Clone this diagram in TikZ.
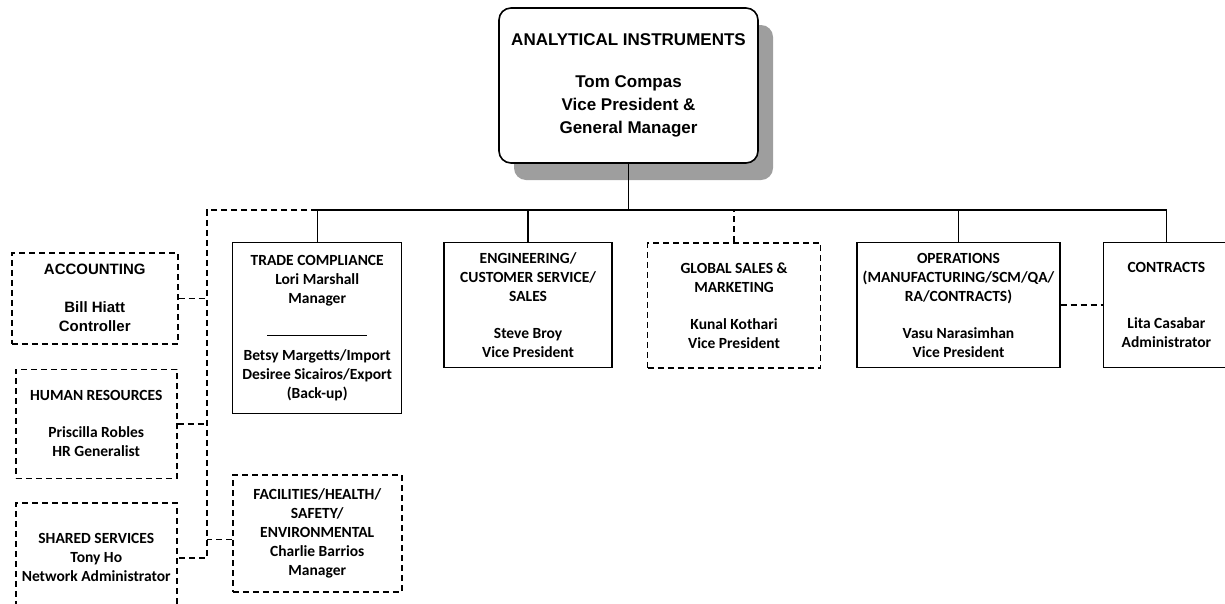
\documentclass[tikz,border=0pt]{standalone}
\usepackage{fontspec}
\setmainfont{Carlito}
\newfontfamily\arialfont{Liberation Sans}
\usetikzlibrary{positioning,shadows}

\begin{document}
\begin{tikzpicture}[x=1pt, y=1pt,
  head/.style={draw, line width=1.6pt, rounded corners=12pt, fill=white, minimum width=259pt, minimum height=155pt, inner sep=0pt, align=center, font=\arialfont\bfseries\fontsize{17}{23}\selectfont, drop shadow={shadow xshift=15pt, shadow yshift=-17pt, fill=black!38, opacity=1}},
  unit/.style={draw, line width=1.4pt, minimum height=125pt, inner sep=0pt, align=center, font=\bfseries\fontsize{15.5}{19}\selectfont},
  staffbox/.style={unit, line width=1.5pt, dash pattern=on 6pt off 4pt},
  link/.style={line width=1.4pt},
  stafflink/.style={line width=1.5pt, dash pattern=on 6pt off 4pt}
]
\useasboundingbox (0,0) rectangle (1225,-603);
\clip (0,0) rectangle (1225,-603);
\node[head] (top) at (628.5,-85.5) {ANALYTICAL INSTRUMENTS\\[19pt]Tom Compas\\Vice President \&\\General Manager};
\node[unit, minimum width=169pt, minimum height=171pt, anchor=north west] (trade) at (232,-242) {TRADE COMPLIANCE\\Lori Marshall\\Manager\\[13pt]\rule{100pt}{0.8pt}\\[6pt]Betsy Margetts/Import\\Desiree Sicairos/Export\\(Back-up)};
\node[unit, minimum width=168pt, right=41pt of trade.north east, anchor=north west] (eng) {ENGINEERING/\\CUSTOMER SERVICE/\\SALES\\[18pt]Steve Broy\\Vice President};
\node[staffbox, minimum width=173pt, right=34pt of eng.north east, anchor=north west] (sales) {GLOBAL SALES \&\\MARKETING\\[18pt]Kunal Kothari\\Vice President};
\node[unit, minimum width=203pt, right=35pt of sales.north east, anchor=north west] (ops) {OPERATIONS\\(MANUFACTURING/SCM/QA/\\RA/CONTRACTS)\\[18pt]Vasu Narasimhan\\Vice President};
\node[unit, minimum width=126pt, right=42pt of ops.north east, anchor=north west] (contracts) {CONTRACTS\\[37pt]Lita Casabar\\Administrator};
\node[staffbox, minimum width=166pt, minimum height=91pt, anchor=north west, font=\arialfont\bfseries\fontsize{15}{19}\selectfont] (acct) at (11,-252) {ACCOUNTING\\[19pt]Bill Hiatt\\Controller};
\node[staffbox, minimum width=161pt, minimum height=109pt, below=24pt of acct.south, anchor=north, xshift=1.5pt] (hr) {HUMAN RESOURCES\\[18pt]Priscilla Robles\\HR Generalist};
\node[staffbox, minimum width=161pt, minimum height=110pt, below=23pt of hr.south, anchor=north] (shared) {SHARED SERVICES\\Tony Ho\\Network Administrator};
\node[staffbox, minimum width=169pt, minimum height=117pt, below=60pt of trade.south west, anchor=north west] (fac) {FACILITIES/HEALTH/\\SAFETY/\\ENVIRONMENTAL\\Charlie Barrios\\Manager};
\coordinate (bus) at (628.5,-210);
\coordinate (spine) at (207,-210);
\draw[link] (trade.north) |- (bus) -| (contracts.north);
\draw[link] (top.south) -- (bus);
\draw[link] (eng.north) -- (eng.north |- bus);
\draw[link] (ops.north) -- (ops.north |- bus);
\draw[stafflink] (sales.north) -- (sales.north |- bus);
\draw[stafflink] (ops.east) -- (contracts.west);
\draw[stafflink] (trade.north |- bus) -- (spine) |- (shared.east);
\draw[stafflink] (acct.east) -- (acct.east -| spine);
\draw[stafflink] (hr.east) -- (hr.east -| spine);
\draw[stafflink] ([yshift=-6pt]fac.west) -- ([yshift=-6pt]fac.west -| spine);
\end{tikzpicture}
\end{document}
